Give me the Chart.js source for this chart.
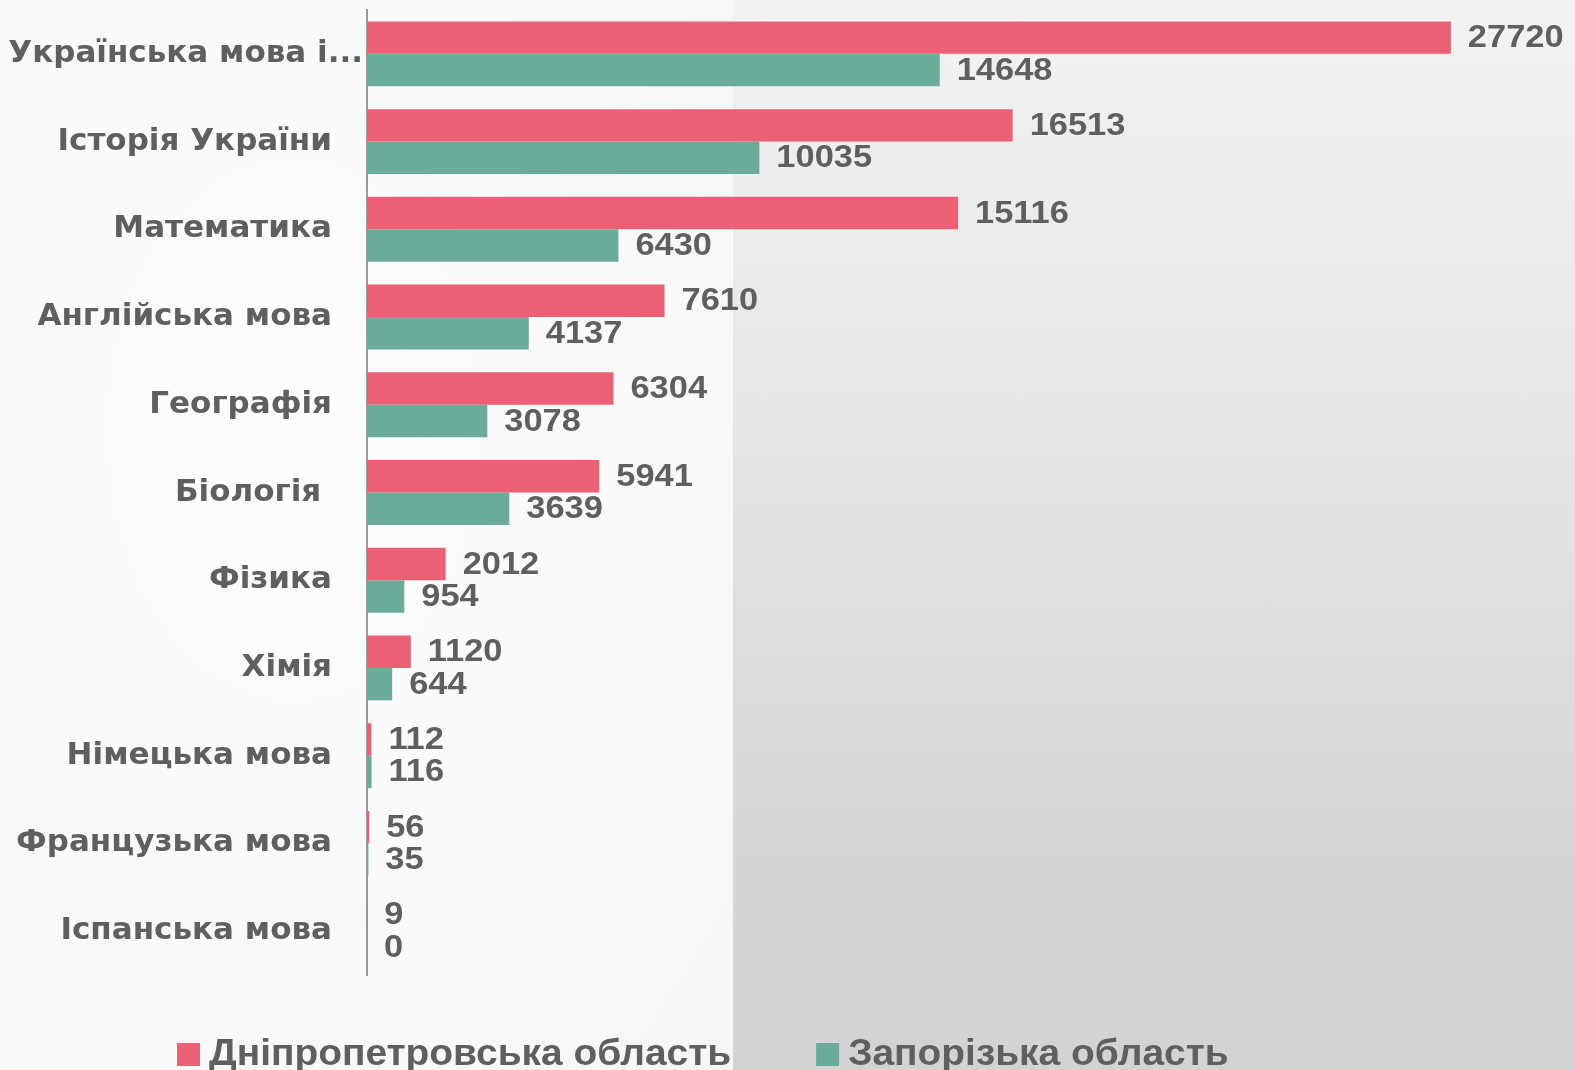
<!DOCTYPE html>
<html>
<head>
<meta charset="utf-8">
<script src="https://cdn.jsdelivr.net/npm/chart.js@4.4.1/dist/chart.umd.min.js"></script>
<style>
  html, body { margin: 0; padding: 0; }
  body { width: 1575px; height: 1070px; position: relative; overflow: hidden; background: #fafafa; }
  .bgLeft { position: absolute; left: 0; top: 0; width: 733px; height: 1070px;
    background: radial-gradient(ellipse at 40% 40%, #fdfdfd 0%, #f9f9f9 60%, #f6f6f6 100%); }
  .bgRight { position: absolute; left: 733px; top: 0; width: 842px; height: 1070px;
    background: linear-gradient(to bottom, #f3f3f3 0%, #e6e6e6 40%, #d5d5d5 80%, #d3d3d3 100%); }
  .wrap { position: absolute; left: 0; top: 0; width: 1575px; height: 1070px; }
</style>
</head>
<body>
<div class="bgLeft"></div>
<div class="bgRight"></div>
<div class="wrap"><canvas id="myChart"></canvas></div>
<script>
const ctx = document.getElementById('myChart');

// categories and series
let subjects = ['Українська мова і...', 'Історія України', 'Математика', 'Англійська мова', 'Географія', 'Біологія ', 'Фізика', 'Хімія', 'Німецька мова', 'Французька мова', 'Іспанська мова']
let dniproValues = [27720, 16513, 15116, 7610, 6304, 5941, 2012, 1120, 112, 56, 9]
let zaporizhValues = [14648, 10035, 6430, 4137, 3078, 3639, 954, 644, 116, 35, 0]
let seriesNames = ['Дніпропетровська область', 'Запорізька область']
let seriesColors = ['rgb(236, 96, 117)', 'rgb(106, 171, 154)']

const textColor = '#5f5f5f'
const boldFont = '"Liberation Sans", Arial, sans-serif'

// value labels to the right of each bar (text a little wider, like the original)
const valueLabels = {
  id: 'valueLabels',
  afterDatasetsDraw(chart) {
    const c = chart.ctx
    chart.data.datasets.forEach((ds, di) => {
      chart.getDatasetMeta(di).data.forEach((bar, i) => {
        c.save()
        c.font = 'bold 31px ' + boldFont
        c.fillStyle = textColor
        c.textAlign = 'left'
        c.textBaseline = 'middle'
        c.translate(bar.x + 17, bar.y + 1)
        c.scale(1.11, 1)
        c.fillText(ds.data[i], 0, 0)
        c.restore()
      })
    })
  }
}

// legend along the bottom edge
const bottomLegend = {
  id: 'bottomLegend',
  afterDraw(chart) {
    const c = chart.ctx
    const sx = 1.08
    let x = 177
    chart.data.datasets.forEach(ds => {
      c.save()
      c.font = 'bold 36px ' + boldFont
      c.textBaseline = 'alphabetic'
      c.textAlign = 'left'
      c.fillStyle = ds.backgroundColor
      c.fillRect(x, 1043, 23, 23)
      c.fillStyle = textColor
      c.translate(x + 32, 1065)
      c.scale(sx, 1)
      c.fillText(ds.label, 0, 0)
      let w = c.measureText(ds.label).width * sx
      c.restore()
      x += 32 + w + 85
    })
  }
}

new Chart(ctx, {
  type: 'bar',
  data: {
    labels: subjects,
    datasets: [{
      label: seriesNames[0],
      data: dniproValues,
      backgroundColor: seriesColors[0],
      categoryPercentage: 0.74,
      barPercentage: 1
    }, {
      label: seriesNames[1],
      data: zaporizhValues,
      backgroundColor: seriesColors[1],
      categoryPercentage: 0.74,
      barPercentage: 1
    }]
  },
  options: {
    indexAxis: 'y',
    responsive: true,
    maintainAspectRatio: false,
    animation: false,
    layout: {
      padding: { top: 10, bottom: 95, left: 0, right: 35 }
    },
    scales: {
      x: {
        display: false,
        min: 0,
        max: 30000
      },
      y: {
        afterFit(scale) {
          scale.width = 367
          scale.paddingTop = 0
          scale.paddingBottom = 0
        },
        grid: { display: false, drawTicks: false },
        border: { display: true, color: '#9a9a9a', width: 2 },
        ticks: {
          padding: 4,
          color: textColor,
          font: { family: '"DejaVu Sans", sans-serif', size: 31, weight: 'bold' },
          callback(value, index) {
            let label = this.getLabelForValue(value)
            return index === 0 ? label : label + '\u2002\u2002'
          }
        }
      }
    },
    plugins: {
      tooltip: { enabled: false },
      legend: { display: false }
    }
  },
  plugins: [valueLabels, bottomLegend]
});
</script>
</body>
</html>
